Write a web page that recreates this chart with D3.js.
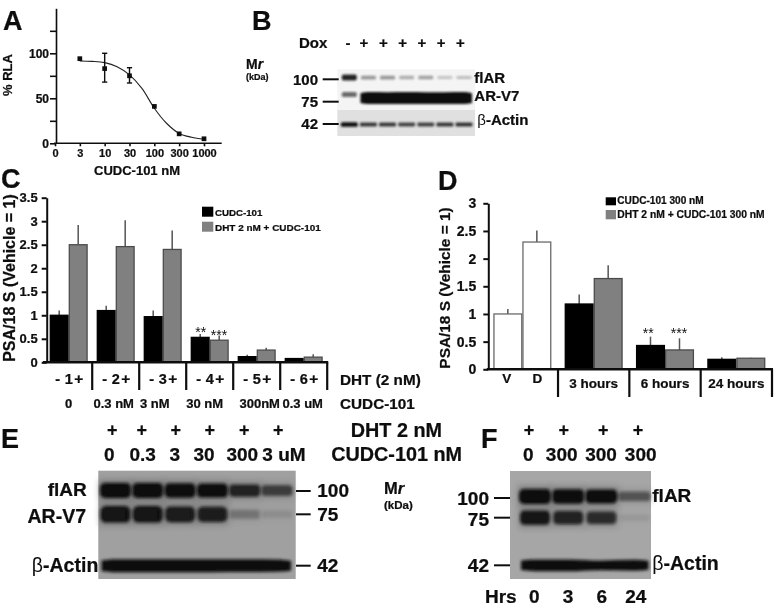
<!DOCTYPE html>
<html><head><meta charset="utf-8">
<script src="https://d3js.org/d3.v7.min.js"></script>
<style>
html,body{margin:0;padding:0;background:#fff}
svg{display:block}
text{font-family:"Liberation Sans",Arial,sans-serif;font-weight:bold;fill:#0c0c0c;stroke:#0c0c0c;stroke-width:.22px}
.axis text{font-family:"Liberation Sans",Arial,sans-serif;font-weight:bold;fill:#0c0c0c}
</style></head><body>
<script>
// ---------- Panel A ----------
const doseTicks = ["0","3","10","30","100","300","1000"];
const doseIdx = [1,2,3,4,5,6];
const rla = [94,83,75,41,10.5,5];
const rlaLow = [null,68,67,null,null,null];
const rlaHigh = [null,100,84,null,null,null];
const fitPos = [1,1.5,2,2.5,3,3.5,4,4.5,5,5.5,6];
const fitRla = [91.5,91,89.6,85,76,61,39,22,11,6.7,4.5];
// ---------- Panel C ----------
const cGroups = ["1","2","3","4","5","6"];
const cDoses = ["0","0.3 nM","3 nM","30 nM","300nM","0.3 uM"];
const cBlack = [1,1.1,0.97,0.53,0.12,0.08];
const cBlackTop = [1.1,1.2,1.1,0.6,0.16,0.09];
const cGray = [2.5,2.46,2.4,0.47,0.26,0.11];
const cGrayTop = [2.92,3.02,2.8,0.57,0.31,0.17];
const cTicks = [0,0.5,1,1.5,2,2.5,3,3.5];
// ---------- Panel D ----------
const dGroups = ["Ctrl","3 hours","6 hours","24 hours"];
const dFirst = [1,1.18,0.43,0.18];
const dFirstTop = [1.09,1.35,0.59,0.22];
const dSecond = [2.3,1.64,0.35,0.2];
const dSecondTop = [2.51,1.88,0.56,0.21];
const dTicks = [0,0.5,1,1.5,2,2.5,3];
// ---------- Blots: band intensity per lane ----------
const kdaMarks = [100,75,42];
const bFlAR = [0.95,0.42,0.42,0.32,0.38,0.22,0.25];
const bV7Ctrl = [0.6,0,0,0,0,0,0];
const bV7 = [0,1,0.97,1,0.97,0.97,1];
const bActin = [0.9,0.7,0.7,0.65,0.65,0.7,0.72];
const eFlAR = [1,1,0.95,0.9,0.72,0.55];
const eV7 = [0.95,0.95,0.88,0.85,0.25,0.1];
const eActin = [1,1,1,1,0.97,0.92];
const fFlAR = [1,0.95,0.9,0.42];
const fV7 = [0.92,0.82,0.75,0.07];
const fActin = [0.92,0.92,0.65,0.8];
const eDoseLabels = ["0","0.3","3","30","300","3 uM"];
const fDoseLabels = ["0","300","300","300"];
const fHours = ["0","3","6","24"];

const W=777,H=611;
const svg=d3.select("body").append("svg").attr("width",W).attr("height",H);
const defs=svg.append("defs");
defs.append("filter").attr("id","soft").attr("x","-5%").attr("y","-5%").attr("width","110%").attr("height","110%")
  .append("feGaussianBlur").attr("stdDeviation",0.35);
[["b1",0.8],["b2",1.5],["b3",3]].forEach(([id,s])=>defs.append("filter").attr("id",id)
  .attr("x","-30%").attr("y","-80%").attr("width","160%").attr("height","260%")
  .append("feGaussianBlur").attr("stdDeviation",s));
const root=svg.append("g").attr("filter","url(#soft)");

function T(x,y,s,size,anchor,extra){
  const t=root.append("text").attr("x",x).attr("y",y).attr("font-size",size)
    .attr("text-anchor",anchor||"start").text(s);
  if(extra)extra(t);return t;
}
function TR(x,y,s,size){ // rotated, centred
  return root.append("text").attr("transform",`translate(${x},${y}) rotate(-90)`)
    .attr("font-size",size).attr("text-anchor","middle").text(s);
}
function beta(x,y,size,anchor){ // beta in regular weight, "-Actin" in bold
  return T(x,y,"",size,anchor,t=>{
    t.append("tspan").style("font-weight","normal").style("stroke","none").text("β");
    t.append("tspan").text("-Actin");
  });
}
function mr(x,y,size,dy,small){ // Mr with (kDa) below it
  T(x,y,"M",size,"start",t=>t.append("tspan").attr("font-style","italic").text("r"));
  T(x,y+dy,"(kDa)",small,"start");
}
function styleAxis(g,w,fs){
  g.attr("class","axis");
  g.selectAll("path,line").attr("stroke","#111").attr("stroke-width",w);
  g.selectAll("text").attr("font-size",fs);
}
// panel letters
[["A",3,30],["B",252,29.5],["C",1,188],["D",438,190],["E",1,448],["F",481,448]]
  .forEach(d=>T(d[1],d[2],d[0],27));

// ========== A ==========
{
  const y=d3.scaleLinear().domain([0,150]).range([143.3,8.3]);
  const x=d3.scaleLinear().domain([0,6]).range([55,204]);
  root.append("g").attr("transform","translate(56,0)")
    .call(d3.axisLeft(y).tickValues([0,25,50,75,100,125]).tickSize(6).tickSizeOuter(0).tickPadding(1)
      .tickFormat(d=>d%50===0?d:""))
    .call(styleAxis,1.6,12);
  root.append("g").attr("transform","translate(0,143.3)")
    .call(d3.axisBottom(x).tickValues(d3.range(7)).tickFormat(i=>doseTicks[i]).tickSize(3).tickSizeOuter(0).tickPadding(3))
    .call(g=>{g.select(".domain").attr("d","M54,0H221.7");})
    .call(styleAxis,1.6,11);
  root.append("path").datum(fitPos.map((p,i)=>[p,fitRla[i]]))
    .attr("fill","none").attr("stroke","#222").attr("stroke-width",1.1)
    .attr("d",d3.line().x(d=>x(d[0])).y(d=>y(d[1])).curve(d3.curveCatmullRom));
  doseIdx.forEach((p,i)=>{
    if(rlaLow[i]!=null){
      const g=root.append("g").attr("stroke","#111").attr("stroke-width",1.4);
      g.append("line").attr("x1",x(p)).attr("x2",x(p)).attr("y1",y(rlaLow[i])).attr("y2",y(rlaHigh[i]));
      [rlaLow[i],rlaHigh[i]].forEach(v=>g.append("line").attr("x1",x(p)-2.6).attr("x2",x(p)+2.6).attr("y1",y(v)).attr("y2",y(v)));
    }
    root.append("path").attr("d",d3.symbol(d3.symbolSquare,22)()).attr("fill","#0a0a0a")
      .attr("transform",`translate(${x(p)},${y(rla[i])})`);
  });
  TR(12,75,"% RLA",13);
  T(137,175,"CUDC-101 nM",13,"middle");
}

// ---------- blot helper ----------
function blot(o){
  root.append("rect").attr("x",o.x0).attr("y",o.y0).attr("width",o.x1-o.x0).attr("height",o.y1-o.y0).attr("fill",o.bg);
  const lane=d3.scaleLinear().domain([0,o.lanes-1]).range(o.laneRange);
  const kda=d3.scaleLinear().domain(kdaMarks).range(o.kdaY).clamp(false);
  o.rows.forEach(r=>{
    const thick=v=>r.h*(0.35+0.65*v);
    if(r.run){ // one continuous band running through the lanes
      const pts=r.vals.map((v,i)=>[i,v]).filter(d=>d[1]>0);
      const i0=pts[0][0], i1=pts[pts.length-1][0];
      const ext=[[lane(i0)-r.run,pts[0][1]*0.7]].concat(pts.map(d=>[lane(d[0]),d[1]]),[[lane(i1)+r.run,pts[pts.length-1][1]*0.7]]);
      root.append("path").datum(ext).attr("fill","#111").attr("filter",`url(#${o.blur})`)
        .attr("d",d3.area().x(d=>d[0]).y0(d=>kda(r.kda)-thick(d[1])/2).y1(d=>kda(r.kda)+thick(d[1])/2).curve(d3.curveMonotoneX));
      return;
    }
    r.vals.forEach((v,i)=>{
      if(!v)return;
      const h=thick(v), w=(r.w||o.bw);
      if(o.halo){
        root.append("rect").attr("x",lane(i)-w/2-1).attr("y",kda(r.kda)-h/2-3)
          .attr("width",w+2).attr("height",h+6).attr("fill","#222").attr("opacity",0.3*v).attr("filter","url(#b3)");
      }
      root.append("rect").attr("x",lane(i)-w/2).attr("y",kda(r.kda)-h/2)
        .attr("width",w).attr("height",h).attr("rx",h/3)
        .attr("fill","#111").attr("opacity",Math.min(1,v*(r.gain||1.15)))
        .attr("filter",`url(#${o.blur})`);
    });
  });
  kdaMarks.forEach(m=>{
    root.append("line").attr("x1",o.tickX[0]).attr("x2",o.tickX[1]).attr("y1",kda(m)).attr("y2",kda(m))
      .attr("stroke","#111").attr("stroke-width",2);
  });
}

// ========== B ==========
{
  root.append("rect").attr("x",337.3).attr("y",110).attr("width",137.7).attr("height",26).attr("fill","#e0e0e0");
  blot({x0:337.3,x1:475,y0:69.3,y1:110,bg:"#f4f4f4",lanes:7,laneRange:[349.3,464],bw:15,blur:"b1",
    kdaY:[79.3,101.7,124],tickX:[322.7,338.7],
    rows:[{kda:102,vals:bFlAR,h:6,gain:0.95},
          {kda:83,vals:bV7Ctrl,h:7,gain:1},
          {kda:79,vals:bV7,h:12,run:8},
          {kda:41.3,vals:bActin,h:5,w:17,gain:1.15}]});
  T(299,47.7,"Dox",15);
  ["-","+","+","+","+","+","+"].forEach((s,i)=>T(i?364+19.3*(i-1):348,48,s,15,"middle"));
  mr(246,68.5,14,11.5,9);
  T(318,85,"100",15,"end");T(318,107.3,"75",15,"end");T(318,129.3,"42",15,"end");
  T(474.3,82.7,"flAR",15);T(474.3,100.7,"AR-V7",15);beta(477.3,125,15);
}

// ---------- bars helper ----------
function bars(o){
  const outer=d3.scaleBand().domain(o.groups).range(o.xRange);
  const inner=d3.scaleBand().domain([0,1]).range(o.innerRange);
  const y=d3.scaleLinear().domain(o.yDomain).range(o.yRange);
  root.append("g").attr("transform",`translate(${o.axisX},0)`)
    .call(d3.axisLeft(y).tickValues(o.ticks).tickSize(5).tickSizeOuter(0).tickPadding(o.pad).tickFormat(d=>String(d)))
    .call(styleAxis,2,o.tickFs);
  o.groups.forEach((g,gi)=>{
    [[o.a,o.aTop,0],[o.b,o.bTop,1]].forEach(([vals,tops,s])=>{
      const col=o.color(gi,s);
      const bx=outer(g)+inner(s), bw=inner.bandwidth();
      root.append("line").attr("x1",bx+bw/2).attr("x2",bx+bw/2).attr("y1",y(vals[gi])).attr("y2",y(tops[gi]))
        .attr("stroke",col.err).attr("stroke-width",1.5);
      root.append("rect").attr("x",bx+0.6).attr("y",y(vals[gi])).attr("width",bw-1.2).attr("height",y(0)-y(vals[gi]))
        .attr("fill",col.fill).attr("stroke",col.stroke).attr("stroke-width",1.3);
    });
  });
  // baseline and group separators from the band scale
  const yb=y(0);
  root.append("g").attr("transform",`translate(0,${yb})`)
    .call(d3.axisBottom(outer).tickSize(0).tickFormat(""))
    .call(g=>g.select(".domain").attr("d",`M${o.baseStart},0H${o.xRange[1]+1}`))
    .call(styleAxis,2.4,10);
  o.groups.forEach((g,gi)=>{
    const sx=outer(g)+outer.bandwidth();
    root.append("line").attr("x1",sx).attr("x2",sx).attr("y1",yb).attr("y2",o.sepY).attr("stroke","#111").attr("stroke-width",2.2);
  });
  return {outer,inner,y};
}

// ========== C ==========
{
  const grayStyle={fill:"#808080",stroke:"#4c4c4c",err:"#555"}, blackStyle={fill:"#000",stroke:"#000",err:"#555"};
  const {outer}=bars({groups:cGroups,xRange:[45.2,327.2],innerRange:[4.5,42.5],yDomain:[0,3.5],yRange:[362.3,197.7],
    axisX:46.7,ticks:cTicks,pad:4,tickFs:13,a:cBlack,aTop:cBlackTop,b:cGray,bTop:cGrayTop,
    color:(g,s)=>s?grayStyle:blackStyle,baseStart:43,sepY:390});
  TR(15,278,"PSA/18 S (Vehicle = 1)",16);
  cGroups.forEach((g,i)=>{
    const c=outer(g)+outer.bandwidth()/2;
    T(c-11,383.5,"-",14.5,"middle");T(c,383.5,g,14.5,"middle");T(c+10,383.5,"+",15.5,"middle");
    T(c+[0,-2,-8,-5,3,-1][i],408.3,cDoses[i],13,"middle");
  });
  T(340,385,"DHT (2 nM)",15.3);T(340,409.3,"CUDC-101",15.3);
  root.append("rect").attr("x",202).attr("y",206.7).attr("width",11.3).attr("height",10).attr("fill","#000");
  root.append("rect").attr("x",202).attr("y",221.7).attr("width",11.3).attr("height",10).attr("fill","#808080");
  T(215,215.7,"CUDC-101",9.7);T(215,230.7,"DHT 2 nM + CUDC-101",9.95);
  T(200.7,336.5,"**",14,"middle",t=>t.style("font-weight","normal").style("stroke","none"));
  T(219,339.5,"***",14,"middle",t=>t.style("font-weight","normal").style("stroke","none"));
}

// ========== D ==========
{
  const grayStyle={fill:"#808080",stroke:"#4c4c4c",err:"#555"}, blackStyle={fill:"#000",stroke:"#000",err:"#555"},
        whiteStyle={fill:"#fff",stroke:"#6a6a6a",err:"#555"};
  const {outer}=bars({groups:dGroups,xRange:[486.7,772],innerRange:[6.65,64.65],yDomain:[0,3],yRange:[369.3,203.3],
    axisX:488.3,ticks:dTicks,pad:7,tickFs:14,a:dFirst,aTop:dFirstTop,b:dSecond,bTop:dSecondTop,
    color:(g,s)=>g===0?whiteStyle:(s?grayStyle:blackStyle),baseStart:486.7,sepY:397});
  TR(450,288,"PSA/18 S (Vehicle = 1)",15.4);
  const c0=outer(dGroups[0])+outer.bandwidth()/2;
  T(c0-15.6,383,"V",13.5,"middle");T(c0+15,383,"D",13.5,"middle");
  dGroups.slice(1).forEach(g=>T(outer(g)+outer.bandwidth()/2,387.7,g,13.5,"middle"));
  root.append("rect").attr("x",605.7).attr("y",197.3).attr("width",10.3).attr("height",8).attr("fill","#000");
  root.append("rect").attr("x",605.7).attr("y",210).attr("width",10.3).attr("height",9.3).attr("fill","#808080");
  T(617.3,204.3,"CUDC-101 300 nM",10.1);T(617.3,217.7,"DHT 2 nM + CUDC-101 300 nM",10.3);
  T(648.3,337.5,"**",14,"middle",t=>t.style("font-weight","normal").style("stroke","none"));
  T(679,337.5,"***",14,"middle",t=>t.style("font-weight","normal").style("stroke","none"));
}

// ========== E ==========
{
  blot({x0:98.3,x1:295.7,y0:470.7,y1:579,bg:"#a0a0a0",lanes:6,laneRange:[115.5,277],bw:31,blur:"b2",halo:true,
    kdaY:[491,514.3,565.7],tickX:[296,310.7],
    rows:[{kda:100.5,vals:eFlAR,h:15},{kda:75,vals:eV7,h:17,w:30,gain:1},{kda:42,vals:eActin,h:13,run:14}]});
  [112.3,141.7,175.7,209.7,244.3,278.3].forEach(x=>T(x,436,"+",18,"middle"));
  const ex=[109.3,142.7,174.7,204,242.3,284];
  eDoseLabels.forEach((s,i)=>T(ex[i],460.7,s,19,"middle"));
  T(442,436.7,"DHT 2 nM",19.8,"end");T(462,460.7,"CUDC-101 nM",19.8,"end");
  T(86.7,495.7,"flAR",19,"end");T(86,522.7,"AR-V7",19.5,"end");beta(98.3,571.7,19.5,"end");
  T(317.3,497.3,"100",19);T(317.3,520.7,"75",19);T(317.3,572,"42",19);
  mr(384,494.3,16.5,14.5,11.5);
}

// ========== F ==========
{
  blot({x0:510,x1:651,y0:471,y1:579,bg:"#a6a6a6",lanes:4,laneRange:[535,634.6],bw:32,blur:"b2",halo:true,
    kdaY:[498,517.7,565.3],tickX:[494,510],
    rows:[{kda:102,vals:fFlAR,h:15},{kda:75,vals:fV7,h:15,w:30,gain:1},{kda:42,vals:fActin,h:12.5,run:14}]});
  [529,563.7,603.3,638].forEach(x=>T(x,436,"+",18,"middle"));
  const fx=[528.3,561.7,601,640.7];
  fDoseLabels.forEach((s,i)=>T(fx[i],460.7,s,19,"middle"));
  const hx=[534.3,568,601.7,635.7];
  T(485,603.3,"Hrs",19);
  fHours.forEach((s,i)=>T(hx[i],603.3,s,19,"middle"));
  T(489,505,"100",19,"end");T(489,525.7,"75",19,"end");T(489,572,"42",19,"end");
  T(652.3,501.7,"flAR",19);beta(652.3,570,19.5);
}
</script>
</body></html>
